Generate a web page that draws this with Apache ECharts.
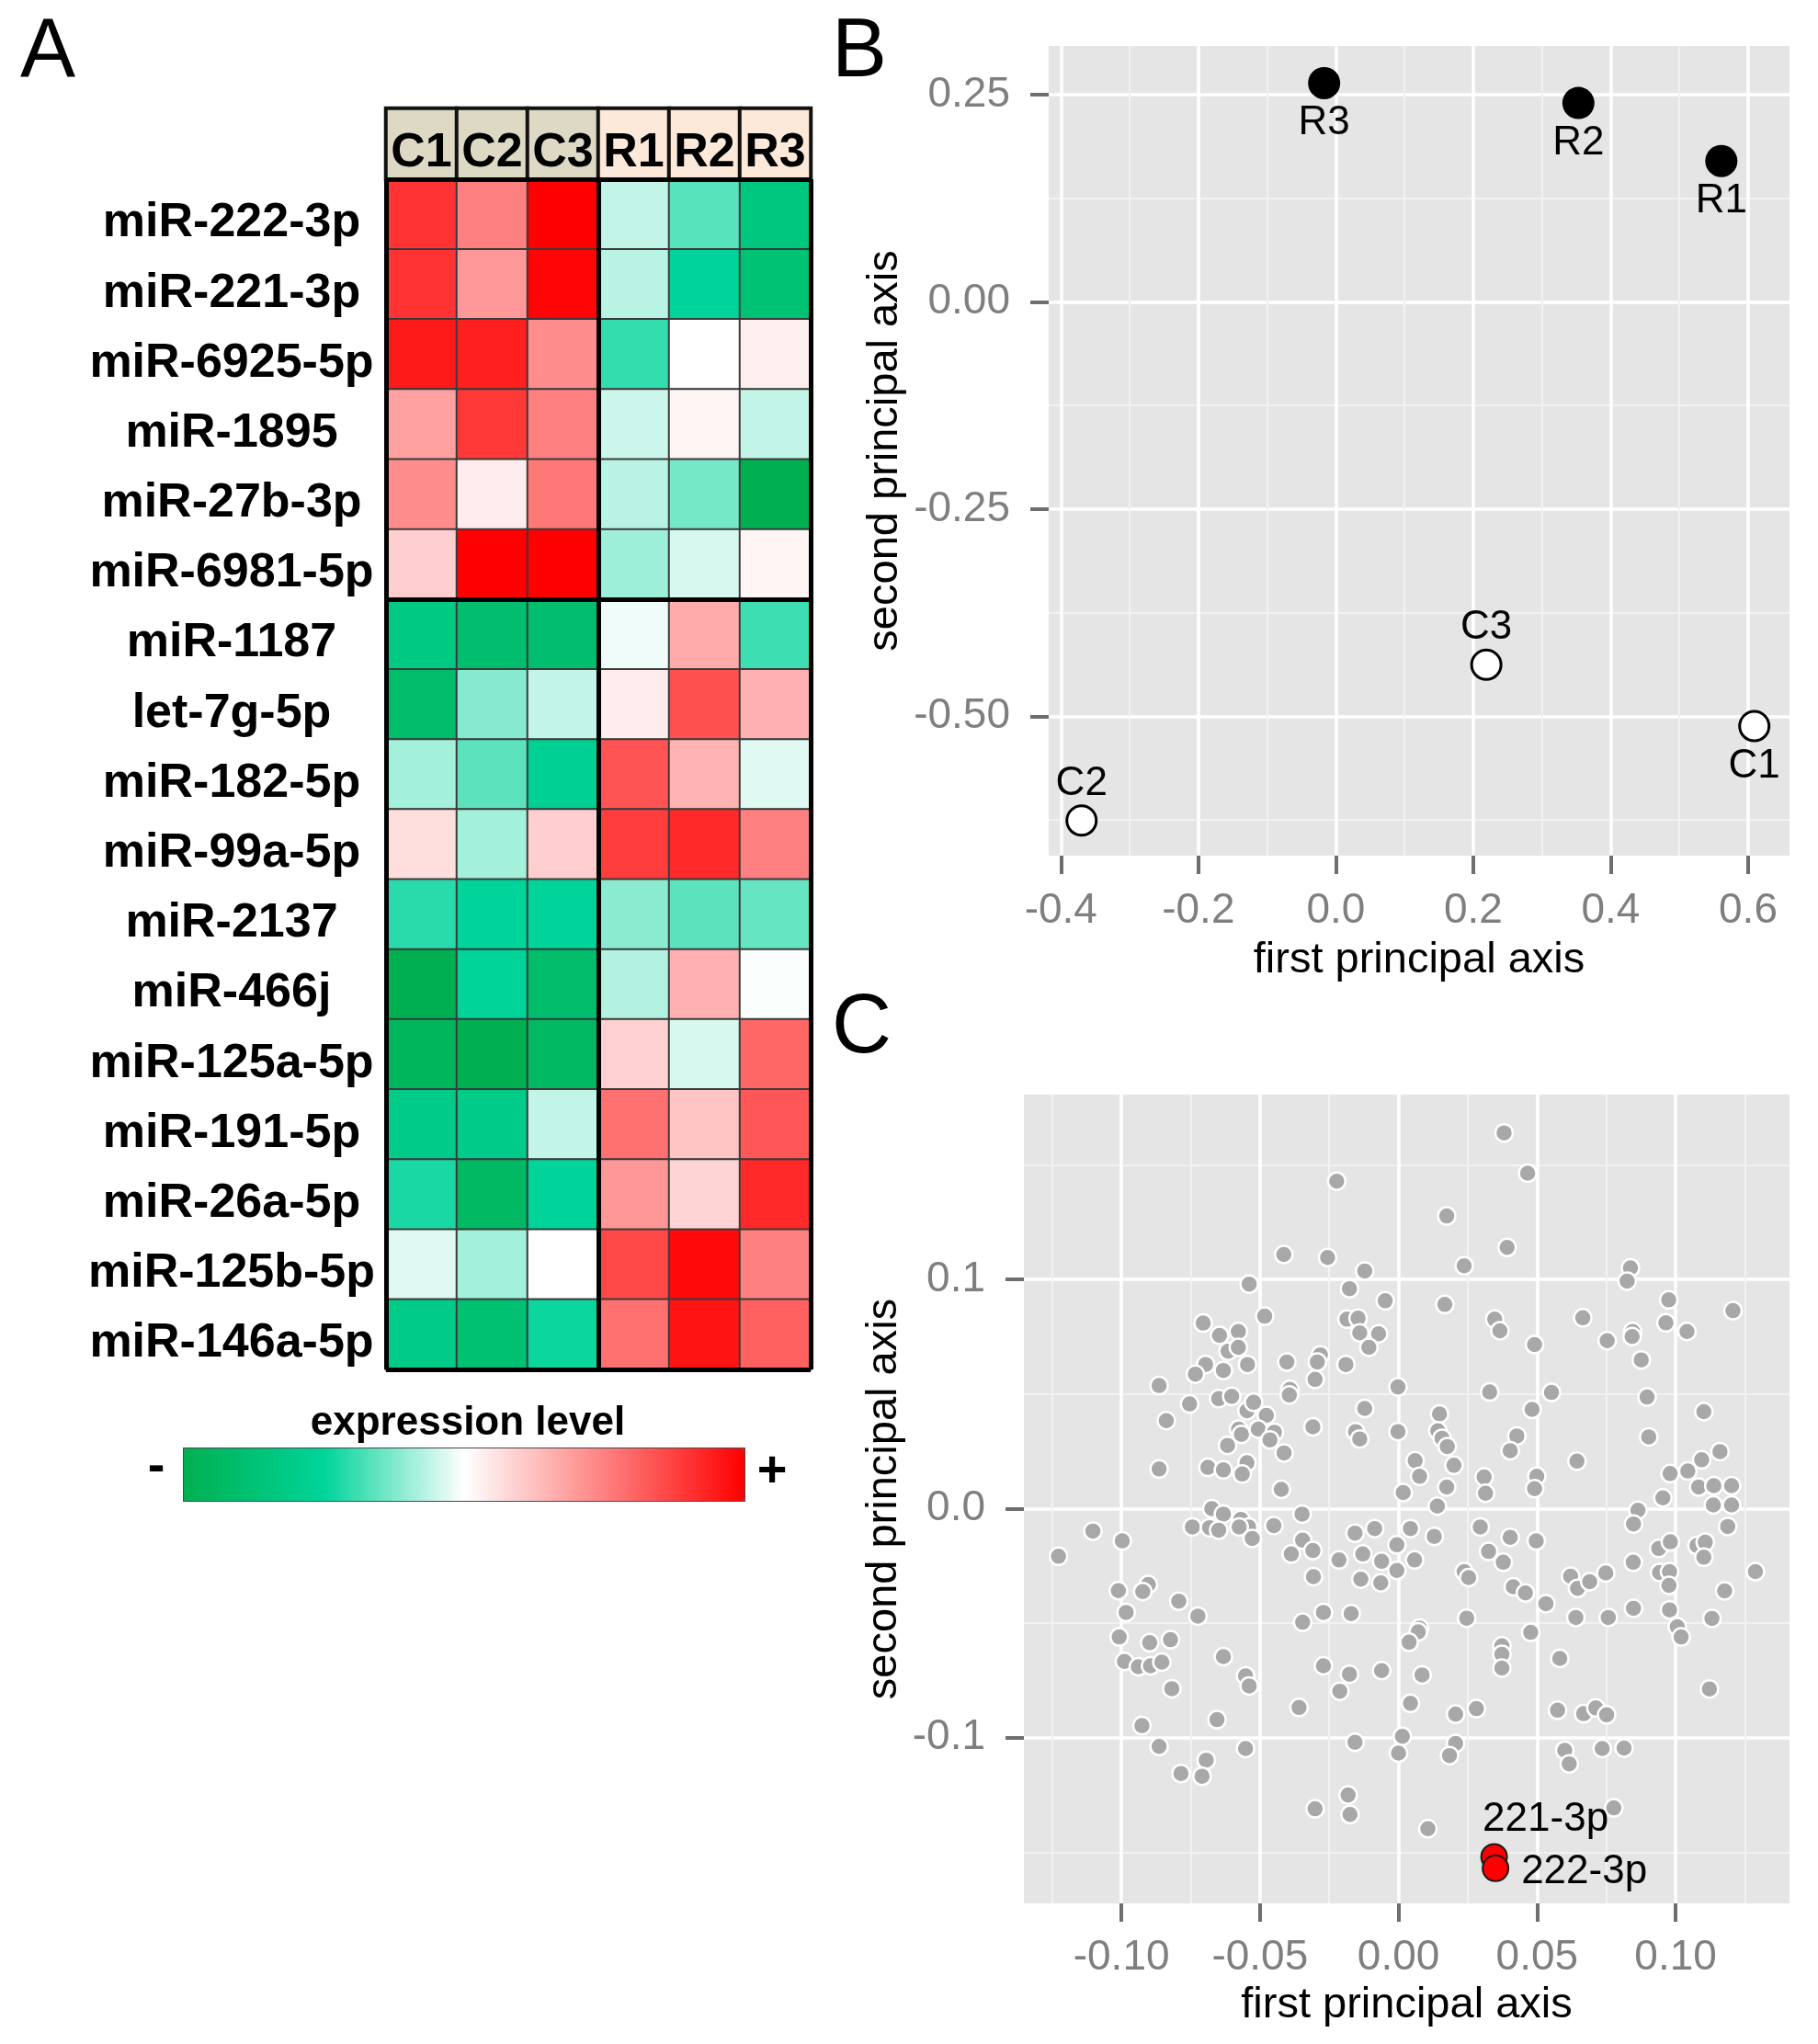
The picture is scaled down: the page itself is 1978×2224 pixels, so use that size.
<!DOCTYPE html>
<html><head><meta charset="utf-8">
<script src="https://cdn.jsdelivr.net/npm/echarts@6/dist/echarts.min.js"></script>
<style>html,body{margin:0;padding:0;background:#fff}#c{width:1978px;height:2224px}</style>
</head><body><div id="c"></div>
<script>
// ---------------- data ----------------
const samples = ['C1','C2','C3','R1','R2','R3'];
const sampleGroup = ['C','C','C','R','R','R'];
const mirnas = ['miR-222-3p','miR-221-3p','miR-6925-5p','miR-1895','miR-27b-3p','miR-6981-5p',
  'miR-1187','let-7g-5p','miR-182-5p','miR-99a-5p','miR-2137','miR-466j','miR-125a-5p',
  'miR-191-5p','miR-26a-5p','miR-125b-5p','miR-146a-5p'];
const upInControl = 6;   // first 6 miRNAs are higher in C samples
const expression = [
  [0.80, 0.50, 1.00, -0.12, -0.33, -0.68],
  [0.80, 0.40, 0.98, -0.14, -0.50, -0.75],
  [0.90, 0.88, 0.45, -0.40, 0.00, 0.06],
  [0.37, 0.78, 0.50, -0.10, 0.04, -0.12],
  [0.45, 0.07, 0.53, -0.14, -0.27, -1.00],
  [0.19, 1.00, 1.00, -0.19, -0.08, 0.04],
  [-0.65, -0.80, -0.80, -0.03, 0.33, -0.38],
  [-0.82, -0.24, -0.12, 0.07, 0.69, 0.31],
  [-0.18, -0.32, -0.55, 0.67, 0.30, -0.06],
  [0.13, -0.18, 0.19, 0.76, 0.84, 0.50],
  [-0.42, -0.50, -0.50, -0.23, -0.32, -0.30],
  [-1.00, -0.52, -0.82, -0.15, 0.31, -0.01],
  [-0.92, -1.00, -0.88, 0.18, -0.08, 0.60],
  [-0.62, -0.62, -0.12, 0.56, 0.23, 0.66],
  [-0.45, -0.88, -0.50, 0.41, 0.17, 0.84],
  [-0.06, -0.18, 0.00, 0.72, 0.96, 0.50],
  [-0.62, -0.78, -0.48, 0.56, 0.92, 0.62]
];

const pcaSamples = ['R1','R2','R3','C1','C2','C3'];
const pcaX = [0.561, 0.353, -0.017, 0.609, -0.370, 0.219];
const pcaY = [0.170, 0.240, 0.264, -0.512, -0.626, -0.438];

const bTicksX = [-0.4, -0.2, 0, 0.2, 0.4, 0.6];
const bMinorX = [-0.3, -0.1, 0.1, 0.3, 0.5];
const bTicksY = [-0.5, -0.25, 0, 0.25];
const bMinorY = [-0.625, -0.375, -0.125, 0.125];
const cTicksX = [-0.1, -0.05, 0, 0.05, 0.1];
const cMinorX = [-0.125, -0.075, -0.025, 0.025, 0.075, 0.125];
const cTicksY = [-0.1, 0, 0.1];
const cMinorY = [-0.15, -0.05, 0.05, 0.15];

const genePoints = [
 [-0.0223,0.1429],[-0.0414,0.1109],[-0.0256,0.1096],[-0.0122,0.1037],[-0.0539,0.0980],[-0.0177,0.0960],
 [-0.0048,0.0907],[-0.0483,0.0840],[-0.0705,0.0810],[-0.0186,0.0827],[-0.0146,0.0831],[-0.0646,0.0756],
 [-0.0578,0.0773],[-0.0140,0.0767],[-0.0072,0.0763],[-0.0615,0.0687],[-0.0578,0.0704],[-0.0107,0.0704],
 [-0.0282,0.0671],[-0.0696,0.0629],[-0.0733,0.0587],[-0.0632,0.0603],[-0.0545,0.0629],[-0.0403,0.0640],
 [-0.0293,0.0640],[-0.0190,0.0629],[-0.0301,0.0564],[-0.0864,0.0537],[-0.0002,0.0531],[-0.0392,0.0520],
 [-0.0394,0.0496],[-0.0754,0.0457],[-0.0649,0.0480],[-0.0602,0.0490],[-0.0547,0.0427],[-0.0523,0.0464],
 [-0.0122,0.0437],[-0.0838,0.0384],[-0.0477,0.0407],[-0.0309,0.0357],[-0.0155,0.0336],[-0.0140,0.0304],
 [-0.0002,0.0336],[-0.0577,0.0347],[-0.0567,0.0324],[-0.0506,0.0347],[-0.0448,0.0333],[-0.0464,0.0300],
 [-0.0617,0.0276],[-0.0413,0.0243],[-0.0864,0.0173],[-0.0688,0.0180],[-0.0632,0.0169],[-0.0547,0.0200],
 [-0.0564,0.0151],
 [0.0381,0.1640],[0.0466,0.1464],[0.0174,0.1277],[0.0392,0.1140],[0.0237,0.1060],[0.0837,0.1051],
 [0.0825,0.0993],[0.0975,0.0911],[0.1207,0.0864],[0.0167,0.0891],[0.0347,0.0827],[0.0366,0.0776],
 [0.0491,0.0716],[0.0665,0.0833],[0.0753,0.0733],[0.0845,0.0773],[0.0843,0.0751],[0.0965,0.0811],
 [0.1041,0.0773],[0.0876,0.0649],[0.0329,0.0509],[0.0552,0.0507],[0.0897,0.0487],[0.0482,0.0433],
 [0.1102,0.0423],[0.0148,0.0413],[0.0142,0.0340],[0.0157,0.0307],[0.0176,0.0271],[0.0427,0.0317],
 [0.0403,0.0253],[0.0903,0.0313],[0.0060,0.0209],[0.0200,0.0189],[0.0644,0.0207],[0.1160,0.0249],
 [0.1094,0.0213],[0.1044,0.0164],[0.0980,0.0153],
 [-0.0423,0.0084],[0.0017,0.0070],[-0.0674,0.0000],[-0.0632,-0.0024],[-0.0569,-0.0047],[-0.0348,-0.0024],
 [-0.1103,-0.0098],[-0.0997,-0.0141],[-0.1227,-0.0208],[-0.0744,-0.0080],[-0.0682,-0.0083],[-0.0649,-0.0094],
 [-0.0541,-0.0080],[-0.0575,-0.0080],[-0.0528,-0.0130],[-0.0450,-0.0074],[-0.0346,-0.0138],[-0.0309,-0.0183],
 [-0.0387,-0.0198],[-0.0307,-0.0297],[-0.0215,-0.0224],[-0.0157,-0.0107],[-0.0086,-0.0087],[-0.0129,-0.0198],
 [-0.0061,-0.0230],[-0.0006,-0.0158],[-0.0006,-0.0270],[-0.0136,-0.0308],[-0.0064,-0.0324],[-0.0903,-0.0331],
 [-0.1011,-0.0358],[-0.0923,-0.0362],[-0.0793,-0.0404],[-0.0724,-0.0469],[-0.0983,-0.0453],[-0.1008,-0.0560],
 [-0.0898,-0.0585],[-0.0823,-0.0572],[-0.0989,-0.0667],[-0.0939,-0.0690],[-0.0895,-0.0686],[-0.0854,-0.0670],
 [-0.0818,-0.0786],[-0.0632,-0.0646],[-0.0552,-0.0730],[-0.0539,-0.0774],[-0.0346,-0.0496],[-0.0271,-0.0453],
 [-0.0171,-0.0458],[-0.0271,-0.0686],[-0.0177,-0.0723],[-0.0061,-0.0707],[-0.0212,-0.0797],[-0.0359,-0.0868],
 [-0.0926,-0.0947],[-0.0655,-0.0921],[-0.0864,-0.1038],[-0.0552,-0.1047],[-0.0694,-0.1098],[-0.0785,-0.1156],
 [-0.0709,-0.1168],[-0.0157,-0.1020],[0.0014,-0.0994],[0.0000,-0.1067],[-0.0182,-0.1250],[-0.0301,-0.1310],
 [-0.0175,-0.1335],
 [0.0076,0.0141],[0.0309,0.0138],[0.0314,0.0067],[0.0499,0.0141],[0.0491,0.0087],[0.0174,0.0094],
 [0.0140,0.0011],[0.1083,0.0094],[0.1138,0.0100],[0.1202,0.0100],[0.0954,0.0047],[0.1136,0.0016],
 [0.1202,0.0016],[0.1188,-0.0078],[0.0864,-0.0007],[0.0848,-0.0067],[0.0043,-0.0087],[0.0129,-0.0121],
 [0.0295,-0.0080],[0.0403,-0.0125],[0.0497,-0.0141],[0.0325,-0.0187],[0.0378,-0.0234],[0.0058,-0.0224],
 [0.0237,-0.0275],[0.0253,-0.0301],[0.0414,-0.0341],[0.0458,-0.0368],[0.0532,-0.0415],[0.0621,-0.0295],
 [0.0646,-0.0348],[0.0690,-0.0319],[0.0748,-0.0281],[0.0847,-0.0234],[0.0939,-0.0174],[0.0981,-0.0145],
 [0.0942,-0.0279],[0.0978,-0.0275],[0.0976,-0.0335],[0.1077,-0.0161],[0.1107,-0.0147],[0.1102,-0.0212],
 [0.1288,-0.0275],[0.1177,-0.0359],[0.0246,-0.0478],[0.0640,-0.0475],[0.0757,-0.0475],[0.0848,-0.0435],
 [0.0978,-0.0442],[0.1006,-0.0516],[0.1020,-0.0560],[0.1131,-0.0479],[0.0076,-0.0522],[0.0071,-0.0538],
 [0.0038,-0.0583],[0.0477,-0.0540],[0.0373,-0.0599],[0.0373,-0.0636],[0.0373,-0.0696],[0.0582,-0.0654],
 [0.0085,-0.0726],[0.1122,-0.0787],[0.0043,-0.0850],[0.0206,-0.0897],[0.0281,-0.0873],[0.0574,-0.0880],
 [0.0668,-0.0895],[0.0712,-0.0870],[0.0751,-0.0900],[0.0206,-0.1025],[0.0184,-0.1078],[0.0600,-0.1055],
 [0.0616,-0.1114],[0.0735,-0.1047],[0.0814,-0.1045],[0.0777,-0.1306],[0.0106,-0.1397]
];
const highlightNames = ['221-3p', '222-3p'];
const highlightX = [0.0345, 0.0350];
const highlightY = [-0.152, -0.157];

// ---------------- build ----------------
const FONT = "'Liberation Sans', Arial, Helvetica, sans-serif";
const chart = echarts.init(document.getElementById('c'), null, {renderer: 'canvas', width: 1978, height: 2224});

const heatData = [];
expression.forEach((row, r) => row.forEach((v, c) => heatData.push([c, r, v])));
const headerColors = {C: '#DDD9C4', R: '#FDE9D9'};
const headerData = samples.map((s, i) => ({value: [i, 0, i], itemStyle: {color: headerColors[sampleGroup[i]]}}));
const groupSplit = sampleGroup.filter(g => g === 'C').length;

const labelAbove = {C2: true, C3: true};
const bFilled = [], bOpen = [];
pcaSamples.forEach((s, i) => {
  const above = !!labelAbove[s];
  const item = {name: s, value: [pcaX[i], pcaY[i]], label: {position: above ? 'top' : 'bottom', distance: above ? 1 : 4}};
  (s[0] === 'R' ? bFilled : bOpen).push(item);
});
const redData = highlightNames.map((n, i) => ({
  name: n, value: [highlightX[i], highlightY[i]],
  label: i === 0 ? {position: 'top', distance: 4, offset: [56, 0]} : {position: 'right', distance: 13, offset: [0, 4]}
}));

function majorAxis(grid, min, max, ticks, dec, name, nameGap, labelMargin) {
  return {
    type: 'value', gridIndex: grid, min: min, max: max,
    name: name, nameLocation: 'middle', nameGap: nameGap,
    nameTextStyle: {color: '#000', fontSize: 47, fontFamily: FONT},
    axisLine: {show: false, onZero: false},
    axisTick: {show: true, customValues: ticks, length: 20, lineStyle: {color: '#6e6e6e', width: 4}},
    axisLabel: {show: true, customValues: ticks, formatter: v => Number(v).toFixed(dec), color: '#7f7f7f',
                fontSize: 46, fontFamily: FONT, margin: labelMargin},
    splitLine: {show: true, lineStyle: {color: '#ffffff', width: 3.5}}
  };
}
function minorAxis(grid, min, max, ticks, pos) {
  return {
    type: 'value', gridIndex: grid, min: min, max: max, position: pos,
    axisLine: {show: false, onZero: false},
    axisTick: {show: false, customValues: ticks},
    axisLabel: {show: false, customValues: ticks},
    splitLine: {show: true, lineStyle: {color: '#F2F2F2', width: 2}}
  };
}

const B = {xmin: -0.4178, xmax: 0.6602, ymin: -0.6683, ymax: 0.3089};
const C = {xmin: -0.1352, xmax: 0.1411, ymin: -0.1723, ymax: 0.1807};

const option = {
  animation: false,
  backgroundColor: '#ffffff',
  textStyle: {fontFamily: FONT},
  grid: [
    {left: 420, top: 195, width: 462, height: 1295, outerBoundsMode: 'none'},
    {left: 420, top: 118, width: 462, height: 77, outerBoundsMode: 'none'},
    {left: 420, top: 195, width: 462, height: 1295, outerBoundsMode: 'none'},
    {left: 1141, top: 50, width: 806, height: 881, show: true, backgroundColor: '#E5E5E5', borderWidth: 0, outerBoundsMode: 'none'},
    {left: 1114, top: 1191, width: 833, height: 880, show: true, backgroundColor: '#E5E5E5', borderWidth: 0, outerBoundsMode: 'none'}
  ],
  xAxis: [
    {type: 'category', gridIndex: 0, data: samples, show: false},
    {type: 'category', gridIndex: 1, data: samples, show: false},
    {type: 'value', gridIndex: 2, min: 0, max: samples.length, show: false},
    majorAxis(3, B.xmin, B.xmax, bTicksX, 1, 'first principal axis', 91, 37),
    minorAxis(3, B.xmin, B.xmax, bMinorX, 'top'),
    majorAxis(4, C.xmin, C.xmax, cTicksX, 2, 'first principal axis', 88, 36),
    minorAxis(4, C.xmin, C.xmax, cMinorX, 'top')
  ],
  yAxis: [
    {type: 'category', gridIndex: 0, data: mirnas, inverse: true,
     axisLine: {show: false}, axisTick: {show: false}, splitLine: {show: false},
     axisLabel: {show: true, fontSize: 52, fontWeight: 'bold', color: '#000', fontFamily: FONT, align: 'center',
                 margin: 168, verticalAlign: 'top', lineHeight: 20}},
    {type: 'category', gridIndex: 1, data: ['header'], show: false},
    {type: 'value', gridIndex: 2, min: 0, max: mirnas.length, inverse: true, show: false},
    majorAxis(3, B.ymin, B.ymax, bTicksY, 2, 'second principal axis', 154, 42),
    minorAxis(3, B.ymin, B.ymax, bMinorY, 'right'),
    majorAxis(4, C.ymin, C.ymax, cTicksY, 1, 'second principal axis', 128, 42),
    minorAxis(4, C.ymin, C.ymax, cMinorY, 'right')
  ],
  visualMap: [{
    type: 'continuous', seriesIndex: 0, min: -1, max: 1, orient: 'horizontal',
    left: 199, top: 1575, itemWidth: 57, itemHeight: 610, calculable: false, hoverLink: false,
    showLabel: false, text: null, padding: 0, borderColor: '#4a4a4a', borderWidth: 2,
    inRange: {color: ['#00B050', '#00D49A', '#FFFFFF', '#FF8080', '#FF0000']}
  }],
  series: [
    {type: 'heatmap', xAxisIndex: 0, yAxisIndex: 0, data: heatData, emphasis: {disabled: true},
     itemStyle: {borderColor: '#3a3a3a', borderWidth: 2}},
    {type: 'heatmap', xAxisIndex: 1, yAxisIndex: 1, data: headerData, emphasis: {disabled: true},
     itemStyle: {borderColor: '#111', borderWidth: 4},
     label: {show: true, formatter: p => samples[p.data.value[0]], color: '#000', fontSize: 52,
             fontWeight: 'bold', fontFamily: FONT, offset: [0, 10]}},
    {type: 'scatter', xAxisIndex: 2, yAxisIndex: 2, data: [], silent: true,
     markLine: {silent: true, symbol: 'none', animation: false, z: 10, label: {show: false},
       lineStyle: {color: '#000', width: 5, type: 'solid'},
       emphasis: {disabled: true},
       data: [{xAxis: 0}, {xAxis: groupSplit}, {xAxis: samples.length}, {yAxis: 0}, {yAxis: upInControl}, {yAxis: mirnas.length}]}},
    {type: 'scatter', xAxisIndex: 3, yAxisIndex: 3, data: bFilled, symbolSize: 35, z: 4,
     itemStyle: {color: '#000', opacity: 1},
     label: {show: true, formatter: '{b}', color: '#000', fontSize: 44, fontFamily: FONT}},
    {type: 'scatter', xAxisIndex: 3, yAxisIndex: 3, data: bOpen, symbolSize: 32, z: 4,
     itemStyle: {color: '#fff', borderColor: '#000', borderWidth: 3, opacity: 1},
     label: {show: true, formatter: '{b}', color: '#000', fontSize: 44, fontFamily: FONT}},
    {type: 'scatter', xAxisIndex: 5, yAxisIndex: 5, data: genePoints, symbolSize: 19, z: 3,
     itemStyle: {color: '#A8A8A8', borderColor: '#ffffff', borderWidth: 2.5, opacity: 1}},
    {type: 'scatter', xAxisIndex: 5, yAxisIndex: 5, data: redData, symbolSize: 28, z: 5,
     itemStyle: {color: '#FF0000', borderColor: '#1a1a1a', borderWidth: 2, opacity: 1},
     label: {show: true, formatter: '{b}', color: '#000', fontSize: 44, fontFamily: FONT}}
  ],
  graphic: [
    {type: 'text', x: 22, y: 58, style: {text: 'A', fill: '#000', font: "90px " + FONT, textAlign: 'left', textVerticalAlign: 'middle', align: 'left', verticalAlign: 'middle'}},
    {type: 'text', x: 905, y: 58, style: {text: 'B', fill: '#000', font: "90px " + FONT, textAlign: 'left', textVerticalAlign: 'middle', align: 'left', verticalAlign: 'middle'}},
    {type: 'text', x: 905, y: 1120, style: {text: 'C', fill: '#000', font: "90px " + FONT, textAlign: 'left', textVerticalAlign: 'middle', align: 'left', verticalAlign: 'middle'}},
    {type: 'text', x: 509, y: 1549, style: {text: 'expression level', fill: '#000', font: "bold 44px " + FONT, textAlign: 'center', textVerticalAlign: 'middle', align: 'center', verticalAlign: 'middle'}},
    {type: 'text', x: 170, y: 1597, style: {text: '-', fill: '#000', font: "bold 56px " + FONT, textAlign: 'center', textVerticalAlign: 'middle', align: 'center', verticalAlign: 'middle'}},
    {type: 'text', x: 840, y: 1602, style: {text: '+', fill: '#000', font: "bold 56px " + FONT, textAlign: 'center', textVerticalAlign: 'middle', align: 'center', verticalAlign: 'middle'}}
  ]
};
chart.setOption(option);
</script>
</body></html>
